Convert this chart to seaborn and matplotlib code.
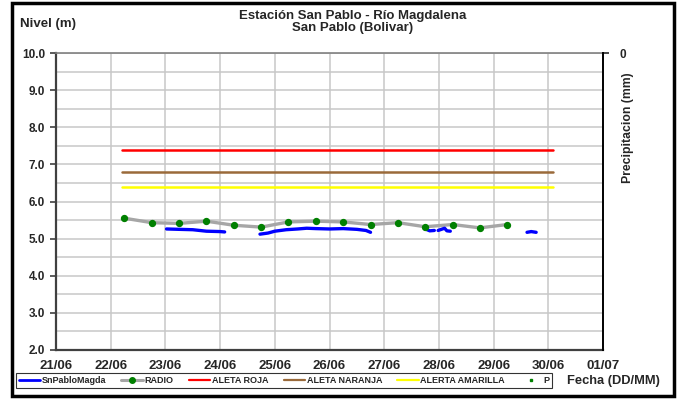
import matplotlib
matplotlib.use('Agg')
import matplotlib.pyplot as plt
import matplotlib.dates as mdates
from matplotlib.lines import Line2D
from matplotlib.patches import Rectangle
import numpy as np
import pandas as pd
import seaborn as sns

sns.set_style('white')
plt.rcParams['font.family'] = ['Liberation Sans', 'DejaVu Sans']
plt.rcParams['font.weight'] = 'bold'

# --- datos ---
radio_fechas = ['2011-06-22 06:00', '2011-06-22 18:00', '2011-06-23 06:00', '2011-06-23 18:00',
                '2011-06-24 06:00', '2011-06-24 18:00', '2011-06-25 06:00', '2011-06-25 18:00',
                '2011-06-26 06:00', '2011-06-26 18:00', '2011-06-27 06:00', '2011-06-27 18:00',
                '2011-06-28 06:00', '2011-06-28 18:00', '2011-06-29 06:00']
radio_nivel = [5.55, 5.43, 5.41, 5.47, 5.36, 5.31, 5.45, 5.47,
               5.45, 5.38, 5.43, 5.32, 5.38, 5.29, 5.38]

sensor_fechas = ['2011-06-23 00:30', '2011-06-23 06:00', '2011-06-23 12:00', '2011-06-23 15:00',
                 '2011-06-23 18:00', '2011-06-24 00:00', '2011-06-24 02:00', '2011-06-24 10:00',
                 '2011-06-24 17:30', '2011-06-24 21:00', '2011-06-25 00:00', '2011-06-25 05:00',
                 '2011-06-25 10:00', '2011-06-25 14:00', '2011-06-25 18:00', '2011-06-26 00:00',
                 '2011-06-26 06:00', '2011-06-26 12:00', '2011-06-26 16:00', '2011-06-26 18:00',
                 '2011-06-27 06:00',
                 '2011-06-27 18:00', '2011-06-27 20:00', '2011-06-27 22:00', '2011-06-27 23:00',
                 '2011-06-27 23:40', '2011-06-28 02:30', '2011-06-28 03:30', '2011-06-28 05:00',
                 '2011-06-28 18:00',
                 '2011-06-29 14:40', '2011-06-29 16:30', '2011-06-29 18:40']
sensor_nivel = [5.26, 5.25, 5.24, 5.22, 5.20, 5.19, 5.18, np.nan,
                5.12, 5.15, 5.20, 5.24, 5.26, 5.28, 5.27, 5.26,
                5.27, 5.25, 5.22, 5.17,
                np.nan,
                5.26, 5.21, 5.22, np.nan,
                5.22, 5.28, 5.21, 5.20,
                np.nan,
                5.17, 5.19, 5.17]

alerta_fechas = ['2011-06-22 05:00', '2011-06-30 02:00']
aleta_roja = 7.4
aleta_naranja = 6.8
alerta_amarilla = 6.4

dias = pd.date_range('2011-06-21', '2011-07-01', freq='D')

radio = pd.DataFrame({'fecha': pd.to_datetime(radio_fechas), 'nivel': radio_nivel})
sensor = pd.DataFrame({'fecha': pd.to_datetime(sensor_fechas), 'nivel': sensor_nivel})
alertas = pd.DataFrame({'fecha': pd.to_datetime(alerta_fechas)})

W, H = 679, 401
fig = plt.figure(figsize=(W / 100, H / 100), dpi=100)
ax = fig.add_axes([56 / W, 1 - 350 / H, (603 - 56) / W, (350 - 53) / H])

# gridlines
ax.set_axisbelow(True)
ax.grid(True, which='both', color='#c8c8c8', linewidth=1.1)

# alertas
for val, col in [(aleta_roja, '#ff0000'), (aleta_naranja, '#9a6a3a'), (alerta_amarilla, '#ffff00')]:
    sns.lineplot(x=alertas['fecha'], y=[val, val], ax=ax, color=col, linewidth=1.8)

# radio
sns.lineplot(data=radio, x='fecha', y='nivel', ax=ax, color='#a6a6a6', linewidth=2.4)
ax.scatter(radio['fecha'], radio['nivel'], color='#008000', s=18, zorder=5)

# sensor
ax.plot(sensor['fecha'], sensor['nivel'], color='#0000ff', linewidth=2.4)

ax.set_xlim(dias[0], dias[-1])
ax.set_ylim(2, 10)
ax.set_yticks(np.arange(2, 10.01, 1))
ax.set_yticks(np.arange(2, 10.01, 0.5), minor=True)
ax.set_yticklabels([f'{v:.1f}' for v in np.arange(2, 10.01, 1)])
ax.set_xticks(dias)
ax.xaxis.set_major_formatter(mdates.DateFormatter('%d/%m'))
ax.tick_params(axis='both', direction='out', length=4, width=1.2, color='#404040')
ax.tick_params(axis='y', labelsize=8.5, pad=4)
ax.tick_params(axis='x', labelsize=9.5, pad=3)
ax.tick_params(axis='y', which='minor', length=0)
for lab in ax.get_xticklabels() + ax.get_yticklabels():
    lab.set_fontweight('bold')
ax.set_xlabel('')
ax.set_ylabel('')
for side in ['left', 'bottom']:
    ax.spines[side].set_color('#404040')
    ax.spines[side].set_linewidth(1.6)
ax.spines['top'].set_color('#808080')
ax.spines['top'].set_linewidth(1.2)
ax.spines['right'].set_visible(False)

# eje secundario precipitacion
ax2 = ax.twinx()
ax2.set_ylim(10, 0)
ax2.set_yticks([0])
ax2.set_yticklabels(['0'])
ax2.tick_params(axis='y', labelsize=8.5, direction='out', length=4, width=1.2, pad=8)
for lab in ax2.get_yticklabels():
    lab.set_fontweight('bold')
ax2.spines['right'].set_color('black')
ax2.spines['right'].set_linewidth(1.4)
for side in ['left', 'top', 'bottom']:
    ax2.spines[side].set_visible(False)
ax2.set_ylabel('Precipitacion (mm)', fontsize=8.8, fontweight='bold')
ax2.yaxis.set_label_coords(1.035, 0.75)

# textos
fig.text(353 / W, 1 - 16 / H, 'Estación San Pablo - Río Magdalena', ha='center', va='center',
         fontsize=9.5, fontweight='bold')
fig.text(353 / W, 1 - 28 / H, 'San Pablo (Bolivar)', ha='center', va='center',
         fontsize=9.5, fontweight='bold')
fig.text(20 / W, 1 - 24 / H, 'Nivel (m)', ha='left', va='center', fontsize=9.5, fontweight='bold')
fig.text(567 / W, 1 - 381 / H, 'Fecha (DD/MM)', ha='left', va='center', fontsize=9.3, fontweight='bold')

# leyenda
handles = [
    Line2D([], [], color='#0000ff', linewidth=2),
    Line2D([], [], color='#a6a6a6', linewidth=2.2, marker='o', markersize=4,
           markerfacecolor='#008000', markeredgecolor='#008000'),
    Line2D([], [], color='#ff0000', linewidth=1.6),
    Line2D([], [], color='#9a6a3a', linewidth=1.6),
    Line2D([], [], color='#ffff00', linewidth=1.6),
    Line2D([], [], color='#008000', linestyle='none', marker='s', markersize=2),
]
labels = ['SnPabloMagda', 'RADIO', 'ALETA ROJA', 'ALETA NARANJA', 'ALERTA AMARILLA', 'P']
leg = fig.legend(handles, labels, loc='center', bbox_to_anchor=(284 / W, 1 - 380.5 / H),
                 ncol=6, fontsize=6.5, frameon=True, fancybox=False, handlelength=2.4,
                 handletextpad=0.15, columnspacing=1.7, borderpad=0.3)
leg.get_frame().set_edgecolor('black')
leg.get_frame().set_linewidth(0.8)
for t in leg.get_texts():
    t.set_fontweight('bold')

# marco exterior
fig.patches.append(Rectangle((12 / W, 1 - 396 / H), (674 - 12) / W, (396 - 3) / H,
                             transform=fig.transFigure, fill=False, edgecolor='black',
                             linewidth=2.5, zorder=10))

fig.savefig('out.png', dpi=100)
